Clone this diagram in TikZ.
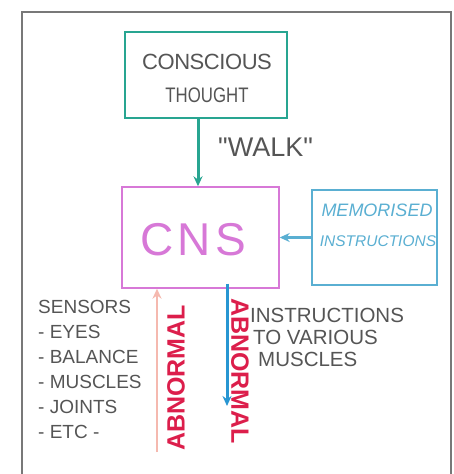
\documentclass[tikz,border=0pt]{standalone}
\usepackage{fontspec}
\setmainfont{Liberation Sans}
\usetikzlibrary{arrows.meta}
\definecolor{frameg}{RGB}{120,120,120}
\definecolor{teal1}{RGB}{40,165,145}
\definecolor{mag1}{RGB}{215,120,215}
\definecolor{blu1}{RGB}{90,175,210}
\definecolor{blu2}{RGB}{40,150,210}
\definecolor{red1}{RGB}{220,30,75}
\definecolor{pink1}{RGB}{245,185,175}
\definecolor{txt}{RGB}{85,85,85}
\tikzset{
  boxbase/.style={draw, line width=1.4pt, inner sep=0pt},
  lbl/.style={text=txt, inner sep=0pt},
  arr/.style={line width=3pt, -{Stealth[length=10pt,width=9pt]}},
  abn/.style={text=red1, font=\fontsize{25}{25}\selectfont\bfseries, inner sep=0pt},
}
\begin{document}
\begin{tikzpicture}[x=1pt,y=-1pt]
\useasboundingbox[fill=white] (0,0) rectangle (454,474);
% frame
\draw[frameg, line width=1.6pt] (22,480) -- (22,12) -- (451,12) -- (451,480);
% boxes
\node[boxbase, draw=teal1, minimum width=162pt, minimum height=86pt] (CT) at (206,75) {};
\node[boxbase, draw=mag1, minimum width=157pt, minimum height=101pt] (CNS) at (200.5,237.5) {};
\node[boxbase, draw=blu1, minimum width=125pt, minimum height=95pt] (MEM) at (374.5,237.5) {};
% texts in boxes
\node[lbl, font=\fontsize{22}{22}\selectfont] (ct1) at (207,62) {\addfontfeatures{LetterSpace=-2}CONSCIOUS};
\node[lbl, font=\fontsize{21}{21}\selectfont, xscale=0.8] (ct2) at (207,95) {THOUGHT};
\node[inner sep=0pt, text=mag1, font=\fontsize{46}{46}\selectfont] (cnst) at (193,240) {\addfontfeatures{LetterSpace=9}CNS};
\node[inner sep=0pt, text=blu1, font=\fontsize{18}{18}\selectfont\itshape] (mem1) at (377,210) {MEMORISED};
\node[inner sep=0pt, text=blu1, font=\fontsize{15.5}{15.5}\selectfont\itshape] (mem2) at (378,241) {INSTRUCTIONS};
% walk label
\node[lbl, font=\fontsize{27}{27}\selectfont, anchor=west] (walk) at (218,147) {\textquotedbl WALK\textquotedbl};
% connectors
\draw[arr, teal1] ([xshift=-8pt]CT.south) -- ([xshift=-2.5pt]CNS.north);
\draw[arr, blu1] (MEM.west) -- (CNS.east);
\coordinate (sbase) at (157,452);
\draw[arr, pink1, line width=2.2pt] (sbase) -- (sbase |- CNS.south);
\coordinate (mend) at (227,406);
\draw[arr, blu2] ([yshift=5pt]mend |- CNS.south) -- (mend);
% abnormal labels
\node[abn, rotate=90] (abn1) at (176,378) {ABNORMAL};
\node[abn, rotate=-90] (abn2) at (240,371) {ABNORMAL};
% sensors list
\node[lbl, font=\fontsize{19}{25}\selectfont, anchor=north west, align=left] (sens) at (38,300)
  {SENSORS\\- EYES\\- BALANCE\\- MUSCLES\\- JOINTS\\- ETC -};
% instructions
\node[lbl, font=\fontsize{20.5}{22}\selectfont, anchor=north west, align=left] (instr) at (250,308)
  {INSTRUCTIONS\\\hspace*{3pt}TO VARIOUS\\\hspace*{8pt}MUSCLES};
\end{tikzpicture}
\end{document}
